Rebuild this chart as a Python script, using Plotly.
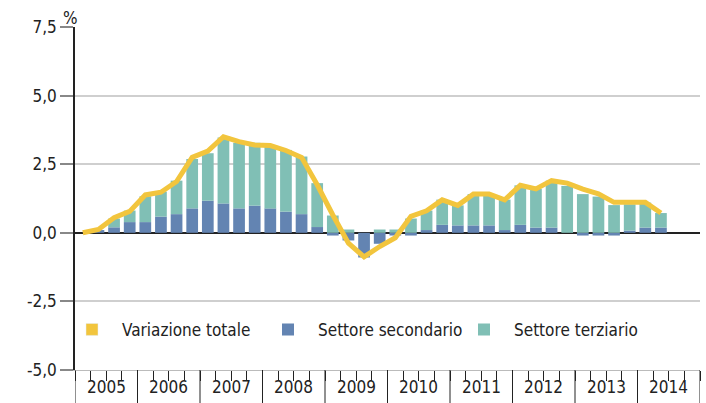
import plotly.graph_objects as go

years = ["2005", "2006", "2007", "2008", "2009", "2010", "2011", "2012", "2013", "2014"]
quarters = [f"{y} T{q}" for y in years for q in range(1, 5)][:38]

secondario = [0.0, 0.1, 0.2, 0.39, 0.39, 0.59, 0.68, 0.89, 1.17, 1.07,
              0.89, 0.99, 0.89, 0.77, 0.68, 0.21, -0.1, -0.28, -0.9, -0.4,
              -0.1, -0.1, 0.1, 0.29, 0.27, 0.27, 0.27, 0.1, 0.29, 0.19,
              0.19, 0.0, -0.1, -0.1, -0.1, 0.08, 0.19, 0.19]
terziario = [0.0, 0.0, 0.32, 0.42, 0.94, 0.91, 1.22, 1.80, 1.73, 2.40,
             2.39, 2.29, 2.31, 2.25, 2.10, 1.60, 0.63, 0.12, 0.0, 0.12,
             0.12, 0.52, 0.71, 0.92, 0.73, 1.14, 1.14, 1.11, 1.44, 1.41,
             1.71, 1.71, 1.41, 1.32, 1.01, 0.96, 0.91, 0.53]
totale = [0.0, 0.12, 0.55, 0.78, 1.38, 1.48, 1.87, 2.75, 2.98, 3.5,
          3.32, 3.2, 3.18, 3.0, 2.75, 1.75, 0.65, -0.38, -0.88, -0.5,
          -0.18, 0.6, 0.8, 1.2, 1.0, 1.41, 1.41, 1.2, 1.73, 1.6,
          1.9, 1.81, 1.59, 1.42, 1.11, 1.11, 1.11, 0.72]

y_ticks = [-5.0, -2.5, 0.0, 2.5, 5.0, 7.5]
y_labels = ["-5,0", "-2,5", "0,0", "2,5", "5,0", "7,5"]

YELLOW = "#F2C53D"
BLUE = "#6384B2"
TEAL = "#80BFB5"
FONT = "Liberation Sans Narrow, DejaVu Sans Condensed, Roboto Condensed, sans-serif"

xpos = [i + 0.5 for i in range(len(quarters))]
n_q = len(years) * 4

fig = go.Figure()
fig.add_trace(go.Bar(x=[None], y=[None], name="Variazione totale",
                     marker_color=YELLOW, showlegend=True))
fig.add_trace(go.Bar(x=xpos, y=secondario, name="Settore secondario",
                     marker_color=BLUE, marker_line_width=0, width=0.75,
                     hovertext=quarters))
fig.add_trace(go.Bar(x=xpos, y=terziario, name="Settore terziario",
                     marker_color=TEAL, marker_line_width=0, width=0.75,
                     hovertext=quarters))
fig.add_trace(go.Scatter(x=xpos, y=totale, mode="lines", name="Variazione totale",
                         line=dict(color=YELLOW, width=5), showlegend=False,
                         hovertext=quarters))

shapes = []
for k in range(len(years) + 1):
    shapes.append(dict(type="line", xref="x", yref="paper", x0=4 * k, x1=4 * k,
                       y0=0, y1=-0.1, line=dict(color="#222", width=1)))

annotations = [dict(x=4 * k + 2, y=0, xref="x", yref="paper", text=y,
                    showarrow=False, yanchor="top", yshift=-5,
                    font=dict(family=FONT, size=17, color="#222"))
               for k, y in enumerate(years)]
annotations.append(dict(x=0, y=1, xref="paper", yref="paper", text="%",
                        showarrow=False, xanchor="center", yanchor="bottom",
                        xshift=-5, yshift=-3,
                        font=dict(family=FONT, size=17, color="#222")))

fig.update_layout(
    width=706, height=403,
    margin=dict(l=75, r=6, t=27, b=33),
    paper_bgcolor="white", plot_bgcolor="white",
    barmode="relative", bargap=0.25,
    font=dict(family=FONT, size=17, color="#222"),
    showlegend=True,
    legend=dict(orientation="h", x=0.0, y=0.117, xanchor="left", yanchor="middle",
                bgcolor="rgba(0,0,0,0)", font=dict(family=FONT, size=17, color="#222"),
                traceorder="normal", itemwidth=50, indentation=-13,
                entrywidth=144, entrywidthmode="pixels"),
    shapes=shapes,
    annotations=annotations,
    xaxis=dict(range=[0, n_q], showgrid=False, zeroline=False,
               showline=True, linecolor="#bbb", linewidth=1,
               tickvals=[4 * k for k in range(len(years) + 1)],
               ticktext=["" for _ in range(len(years) + 1)],
               ticks="",
               minor=dict(ticks="outside", ticklen=10, dtick=1, tick0=0,
                          tickcolor="#222", tickwidth=1, showgrid=False)),
    yaxis=dict(range=[-5, 7.5], tickvals=y_ticks, ticktext=y_labels,
               showgrid=True, gridcolor="#cfcfcf", gridwidth=1.5,
               zeroline=True, zerolinecolor="#222", zerolinewidth=1.5,
               showline=True, linecolor="#222", linewidth=1.5,
               ticks="outside", ticklen=13, tickcolor="#888", tickwidth=1.5,
               tickfont=dict(family=FONT, size=17, color="#222")),
)

fig.write_html("out.html", config={"displayModeBar": False},
               post_script="document.body.style.margin='0';document.body.style.overflow='hidden';")
